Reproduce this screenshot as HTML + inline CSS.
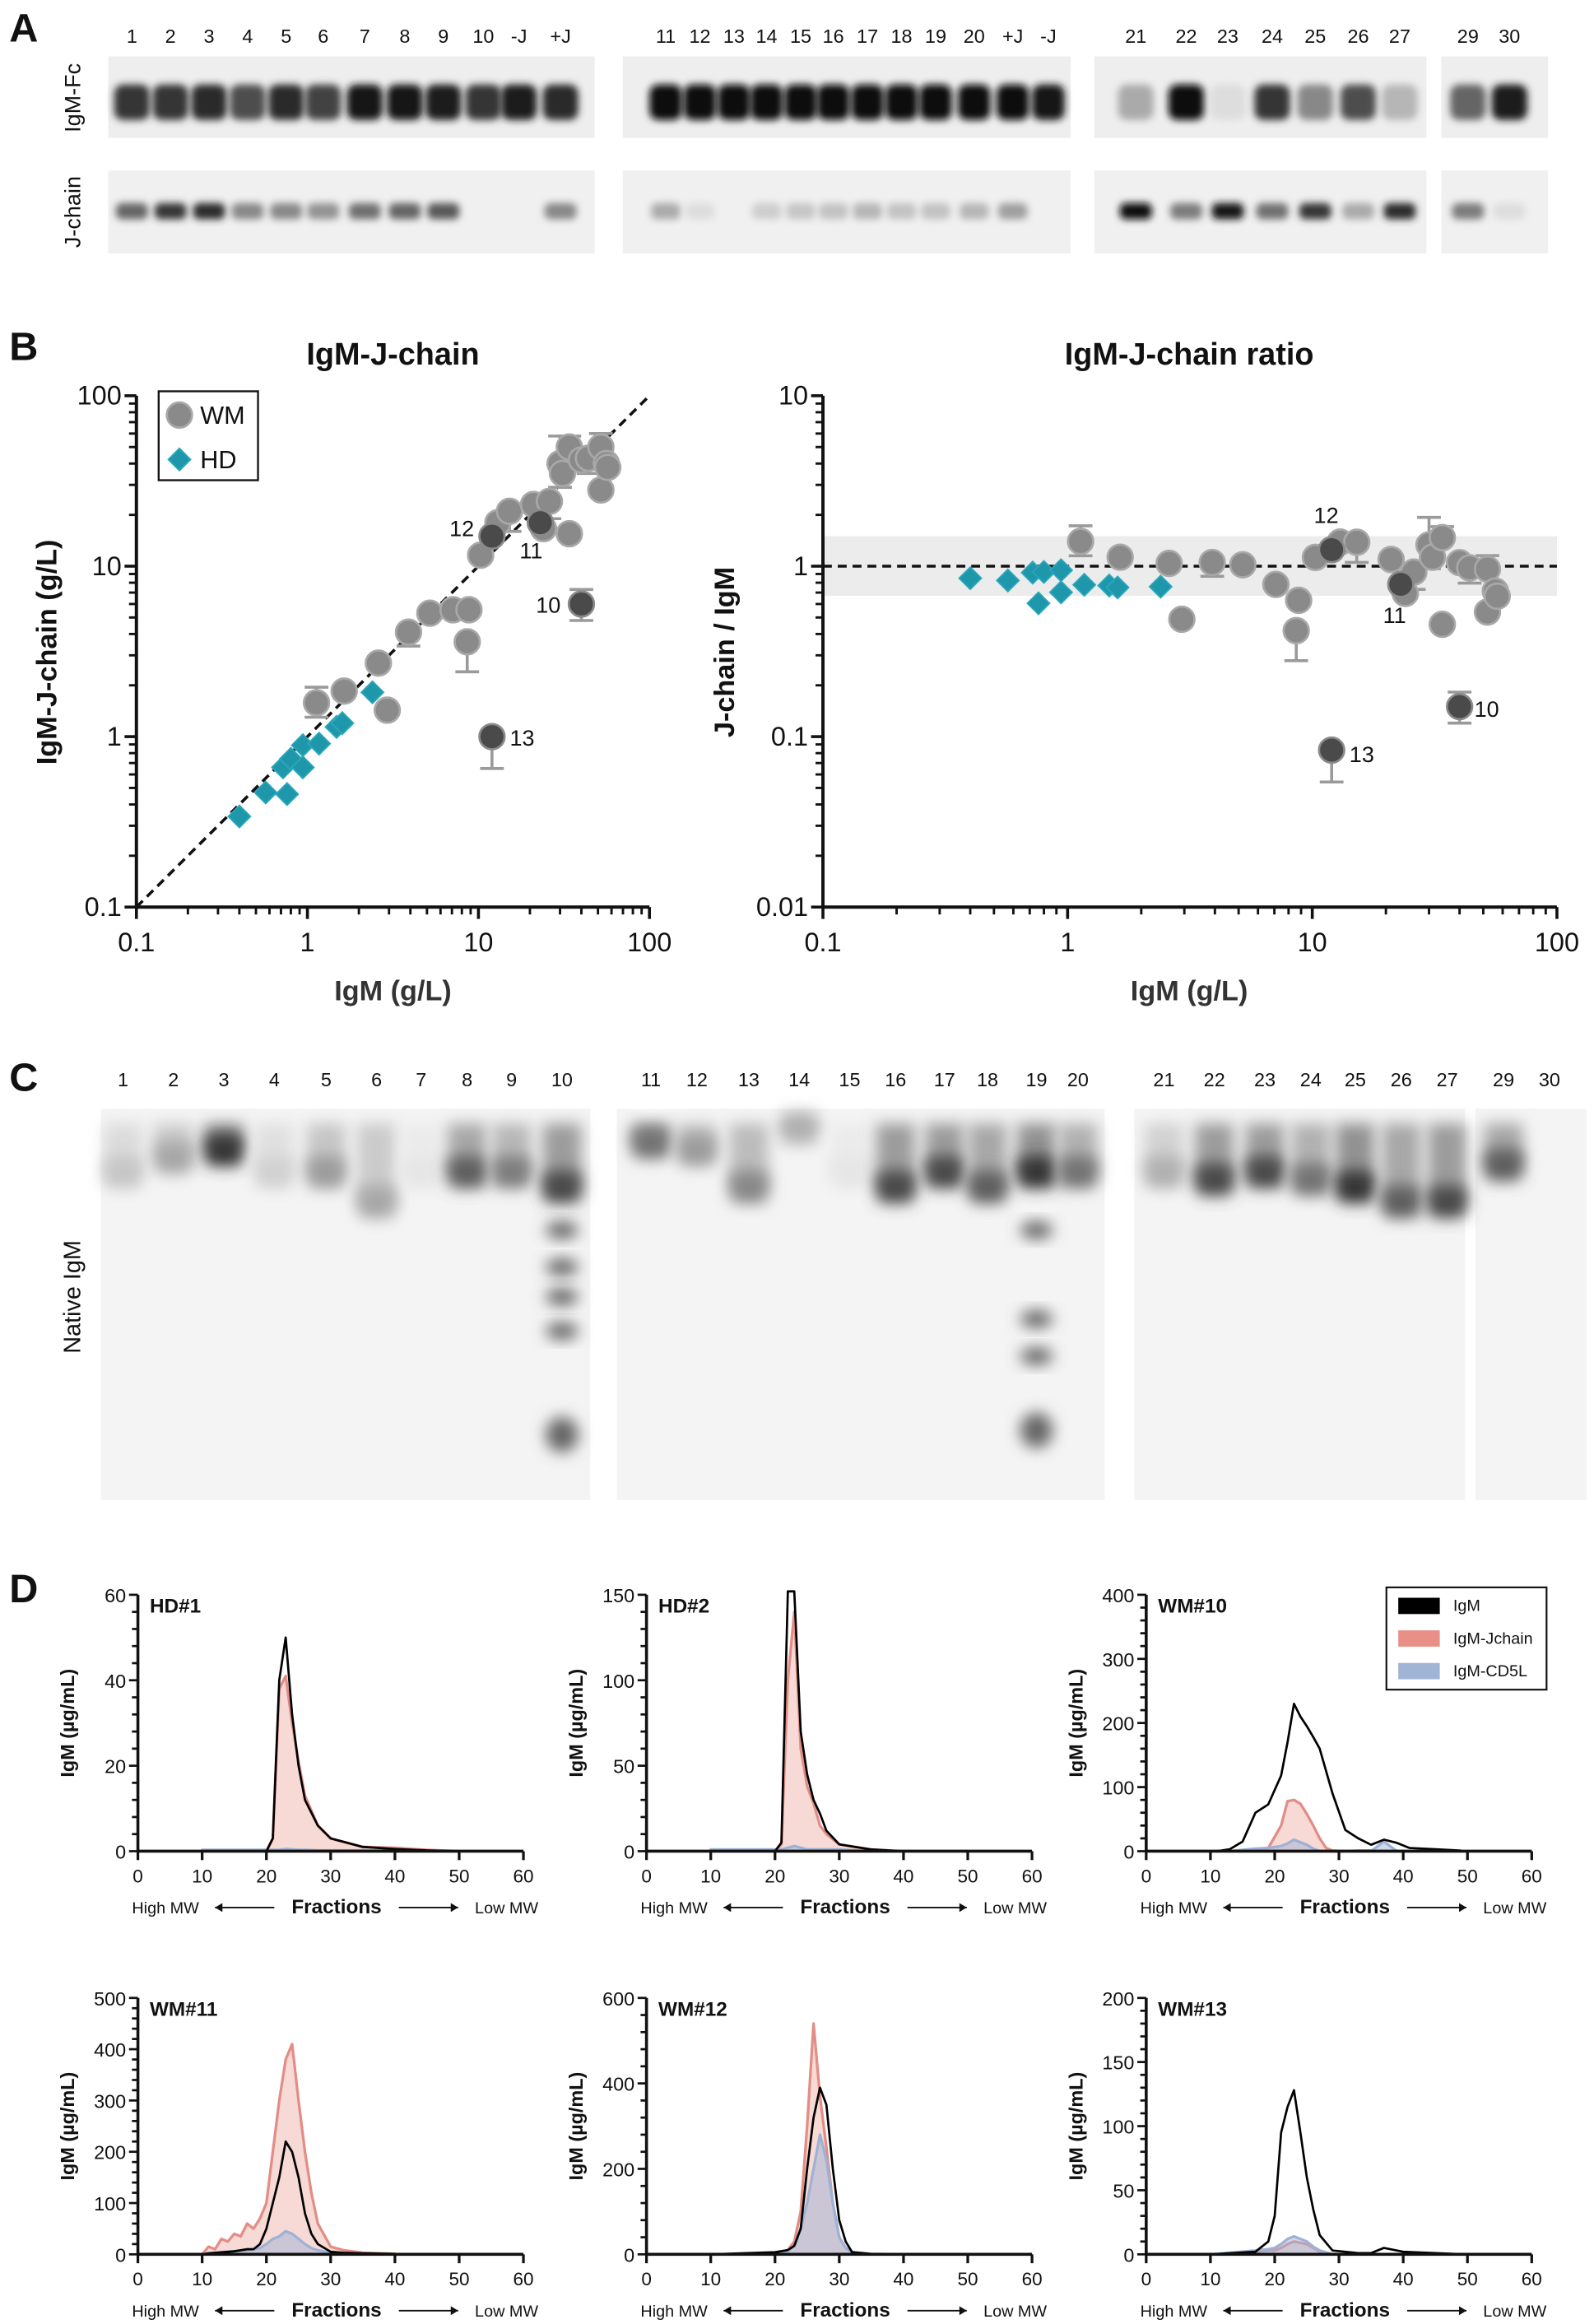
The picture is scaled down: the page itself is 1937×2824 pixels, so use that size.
<!DOCTYPE html>
<html><head><meta charset="utf-8">
<style>
html,body{margin:0;padding:0;background:#fff;}
svg{display:block;font-family:"Liberation Sans",Arial,sans-serif;}
</style></head>
<body>
<svg id="fig" xmlns="http://www.w3.org/2000/svg" width="1937" height="2824" viewBox="0 0 1075 1568" preserveAspectRatio="none">
<defs>
<filter id="blur2" x="-50%" y="-50%" width="200%" height="200%"><feGaussianBlur stdDeviation="2.5"/></filter>
<filter id="blur4" x="-50%" y="-50%" width="200%" height="200%"><feGaussianBlur stdDeviation="5"/></filter>
</defs>
</svg>
<script>
// ---------- Panel B data ----------
const WM_X = [1.13,1.64,2.6,2.93,3.9,5.2,7.1,8.8,8.6,10.3,13,15.2,21,26,24,34,30,31,34,40,44,52,52,56,57];
const WM_Y = [1.58,1.85,2.7,1.43,4.1,5.3,5.55,5.55,3.6,11.6,18,21,23,24,16.6,15.5,40,35,50,42,43,50,28,40,38];
const WM_LO = [1.3,null,null,null,3.4,null,null,null,2.4,null,null,16,null,19,null,null,29,null,null,null,35,null,null,null,null];
const WM_HI = [1.95,null,null,null,null,null,null,null,null,null,null,null,null,null,null,null,58,null,58,null,null,60,null,null,null];
const HD_X = [0.4,0.57,0.76,0.72,0.8,0.94,0.94,1.17,1.48,1.6,2.4];
const HD_Y = [0.34,0.47,0.46,0.66,0.74,0.66,0.89,0.91,1.14,1.2,1.82];
const DARK_ID = ['12','11','10','13'];
const DARK_X = [12,23,40,12];
const DARK_Y = [15,18,6,1.0];
const DARK_LO = [null,null,4.8,0.65];
const DARK_HI = [null,null,7.3,null];
const LOG_TICKS_L = ['0.1','1','10','100'];
const LOG_TICKS_R = ['0.01','0.1','1','10'];

// ---------- Panel D data ----------
const HD1_FRAC=[10,20,21,22,23,24,25,26,28,30,35,40,45,50];
const HD1_IGM=[0,0,3,40,50,32,20,12,6,3,1,0.5,0.2,0];
const HD1_J=[0,0,3,38,41,30,21,13,6,3,1,0.8,0.3,0];
const HD1_CD5=[0.3,0.3,0.3,0.3,0.5,0.4,0.3,0.3,0.2,0.2,0.2,0.2,0,0];
const HD2_FRAC=[10,20,21,22,23,24,25,26,27,28,30,35,40,50];
const HD2_IGM=[0,0,5,152,152,70,45,30,22,12,4,1,0,0];
const HD2_J=[0,0,4,100,140,60,38,28,15,10,4,1,0,0];
const HD2_CD5=[1,1,1,2,3,2,1,1,1,1,1,0,0,0];
const WM10_FRAC=[11,13,15,17,19,21,22,23,24,25,26,27,28,29,31,33,35,37,39,41,45,49];
const WM10_IGM=[0,3,15,60,73,118,170,230,210,195,178,160,125,90,33,20,10,18,13,5,3,1];
const WM10_J=[0,0,1,3,5,40,78,80,74,58,40,20,5,1,0,1,1,0,0,0,0,0];
const WM10_CD5=[0,0,2,4,5,8,12,18,14,10,4,0,0,0,0,0,0,15,0,0,0,0];
const WM11_FRAC=[10,11,12,13,14,15,16,17,18,19,20,21,22,23,24,25,26,27,28,30,32,35,40];
const WM11_IGM=[0,2,3,4,5,6,8,10,10,20,50,100,150,220,200,150,80,40,20,5,3,2,1];
const WM11_J=[0,15,10,30,25,40,35,60,50,70,100,200,300,380,410,300,200,120,60,15,8,3,1];
const WM11_CD5=[0,2,3,4,5,6,7,8,10,12,20,30,35,45,40,30,20,12,8,3,2,1,0];
const WM12_FRAC=[10,20,22,23,24,25,26,27,28,29,30,31,32,35,40];
const WM12_IGM=[0,5,10,20,60,200,320,390,350,200,80,30,5,1,0];
const WM12_J=[0,3,10,30,100,300,540,370,250,120,40,15,5,1,0];
const WM12_CD5=[0,2,8,20,60,120,200,280,220,120,40,15,5,1,0];
const WM13_FRAC=[10,17,19,20,21,22,23,24,25,26,27,29,33,35,37,40,45,50];
const WM13_IGM=[0,2,10,30,95,115,128,95,60,35,15,3,1,1,5,2,1,0];
const WM13_J=[0,2,3,3,5,8,10,9,8,5,2,0,0,0,0,0,0,0];
const WM13_CD5=[0,3,4,5,8,12,14,12,10,6,3,0,0,0,0,0,0,0];
const X_TICKS=[0,10,20,30,40,50,60];

// ---------- Blot data ----------
const A_LANES1=['1','2','3','4','5','6','7','8','9','10','-J','+J'];
const A_LX1=[89,115,141,167,193,218,246,273,299,326,350,378];
const A_FC1=[.8,.8,.85,.7,.85,.75,.95,.95,.9,.8,.9,.85];
const A_JC1=[.6,.8,.85,.45,.45,.4,.55,.6,.65,0,0,.45];
const A_LANES2=['11','12','13','14','15','16','17','18','19','20','+J','-J'];
const A_LX2=[449,472,495,517,540,562,585,608,631,657,683,707];
const A_FC2=[1,1,1,1,1,1,1,1,1,1,1,.95];
const A_JC2=[.3,.08,0,.15,.18,.2,.25,.2,.2,.25,.35,0];
const A_LANES3=['21','22','23','24','25','26','27','29','30'];
const A_LX3=[766,800,828,858,887,916,944,990,1018];
const A_FC3=[.3,1,.08,.8,.45,.7,.25,.6,.9];
const A_JC3=[1,.5,.95,.55,.8,.3,.85,.5,.08];
const C_LANES=['1','2','3','4','5','6','7','8','9','10','11','12','13','14','15','16','17','18','19','20','21','22','23','24','25','26','27','29','30'];
const C_LX=[83,117,151,185,220,254,284,315,345,379,439,470,505,539,573,604,637,666,699,727,785,819,853,884,914,945,976,1014,1045];
const C_INT=[.2,.35,.9,.15,.4,.35,.05,.7,.55,.8,.6,.4,.5,.3,.05,.8,.8,.7,.9,.6,.3,.8,.8,.6,.9,.7,.8,.7,0];
const C_Y=[790,780,775,790,790,810,790,790,790,800,770,775,800,760,790,800,790,800,790,790,790,795,790,795,800,810,810,785,790];

const svg=document.getElementById('fig');
const NS='http://www.w3.org/2000/svg';
function mk(tag,attrs,parent,txt){
  const e=document.createElementNS(NS,tag);
  for(const k in attrs)e.setAttribute(k,attrs[k]);
  if(txt!==undefined)e.textContent=txt;
  (parent||svg).appendChild(e);return e;
}
function grp(name){
  const g=mk('g',{});
  
  
  return g;
}
function label(g,x,y,t,size,anchor,weight,extra){
  const a=Object.assign({x:x,y:y,'font-size':size,'text-anchor':anchor||'middle','font-weight':weight||'normal',fill:'#111'},extra||{});
  const e=mk('text',a,g,t);
  
  
  return e;
}

// ---------- Panel letters ----------
const pl=grp('panel-letters');
label(pl,16,28,'A',27,'middle','bold');
label(pl,16,243,'B',27,'middle','bold');
label(pl,16,736,'C',27,'middle','bold');
label(pl,16,1081,'D',27,'middle','bold');

// ---------- Panel A blots ----------
function gray(v){const c=Math.round(240-v*232);return 'rgb('+c+','+c+','+c+')';}
const pa=grp('panel-a-western-blots');
[[73,401],[420,722],[738,962],[972,1044]].forEach(function(b,i){
  const r1=mk('rect',{x:b[0],y:38,width:b[1]-b[0],height:55,fill:'#eeeeee'},pa);
  
  
  const r2=mk('rect',{x:b[0],y:115,width:b[1]-b[0],height:56,fill:'#f0f0f0'},pa);
  
  
});
function blotLanes(names,xs,fc,jc,w){
  names.forEach(function(n,i){
    label(pa,xs[i],29,n,13,'middle');
    if(fc[i]>0){const e=mk('rect',{x:xs[i]-w,y:57,width:2*w,height:24,rx:6,fill:gray(fc[i]),filter:'url(#blur2)'},pa);
      
      }
    if(jc[i]>0){const e=mk('rect',{x:xs[i]-w*0.9,y:137,width:1.8*w,height:11,rx:4,fill:gray(jc[i]),filter:'url(#blur2)'},pa);
      
      }
  });
}
blotLanes(A_LANES1,A_LX1,A_FC1,A_JC1,12);
blotLanes(A_LANES2,A_LX2,A_FC2,A_JC2,11);
blotLanes(A_LANES3,A_LX3,A_FC3,A_JC3,12);
label(pa,54,66,'IgM-Fc',15,'middle','normal',{transform:'rotate(-90 54 66)'});
label(pa,54,143,'J-chain',15,'middle','normal',{transform:'rotate(-90 54 143)'});

// ---------- Panel B ----------
function lg(v){return Math.log10(v);}
const xL=v=>92+(lg(v)+1)*115.33, yL=v=>612-(lg(v)+1)*115;
const xR=v=>555+(lg(v)+1)*165, yR=v=>612-(lg(v)+2)*115;
function logAxes(g,xf,yf,xmin,ymin,xdec,ydec,xt,yt){
  const X0=xf(xmin),Y0=yf(ymin),X1=xf(xmin*Math.pow(10,xdec)),Y1=yf(ymin*Math.pow(10,ydec));
  mk('line',{x1:X0,y1:Y0,x2:X1,y2:Y0,stroke:'#111','stroke-width':2.2},g);
  mk('line',{x1:X0,y1:Y0,x2:X0,y2:Y1,stroke:'#111','stroke-width':2.2},g);
  for(let d=0;d<=xdec;d++){const base=xmin*Math.pow(10,d);
    mk('line',{x1:xf(base),y1:Y0,x2:xf(base),y2:Y0+8,stroke:'#111','stroke-width':2},g);
    label(g,xf(base),Y0+30,xt[d],18,'middle');
    if(d<xdec)for(let m=2;m<10;m++)mk('line',{x1:xf(base*m),y1:Y0,x2:xf(base*m),y2:Y0+5,stroke:'#111','stroke-width':1.6},g);}
  for(let d=0;d<=ydec;d++){const base=ymin*Math.pow(10,d);
    mk('line',{x1:X0-8,y1:yf(base),x2:X0,y2:yf(base),stroke:'#111','stroke-width':2},g);
    label(g,X0-10,yf(base)+6,yt[d],18,'end');
    if(d<ydec)for(let m=2;m<10;m++)mk('line',{x1:X0-5,y1:yf(base*m),x2:X0,y2:yf(base*m),stroke:'#111','stroke-width':1.6},g);}
}
function errbar(g,xf,yf,x,y,lo,hi){
  [lo,hi].forEach(function(v){if(v===null)return;
    mk('line',{x1:xf(x),y1:yf(y),x2:xf(x),y2:yf(v),stroke:'#9a9a9a','stroke-width':2},g);
    mk('line',{x1:xf(x)-8,y1:yf(v),x2:xf(x)+8,y2:yf(v),stroke:'#9a9a9a','stroke-width':2},g);});
}
function circ(g,cx,cy,fill,name){
  const c=mk('circle',{cx:cx,cy:cy,r:8.5,fill:fill,stroke:fill==='#8a8a8a'?'#a8a8a8':'#8a8a8a','stroke-width':1.5},g);
  
  
}
function diam(g,cx,cy){
  const s=7.5;
  const p=mk('polygon',{points:(cx)+','+(cy-s)+' '+(cx+s)+','+cy+' '+cx+','+(cy+s)+' '+(cx-s)+','+cy,fill:'#1f97ab',stroke:'#2aa7bb','stroke-width':1},g);
  
  
}
// Left scatter
const bl=grp('igm-jchain-scatter');
label(bl,265,246,'IgM-J-chain',21,'middle','bold');
logAxes(bl,xL,yL,0.1,0.1,3,3,LOG_TICKS_L,LOG_TICKS_L);
mk('line',{x1:xL(0.1),y1:yL(0.1),x2:xL(100),y2:yL(100),stroke:'#111','stroke-width':2,'stroke-dasharray':'6,4'},bl);
label(bl,265,675,'IgM (g/L)',19,'middle','bold',{fill:'#333'});
label(bl,38,440,'IgM-J-chain (g/L)',19,'middle','bold',{transform:'rotate(-90 38 440)'});
WM_X.forEach((x,i)=>errbar(bl,xL,yL,x,WM_Y[i],WM_LO[i],WM_HI[i]));
DARK_X.forEach((x,i)=>errbar(bl,xL,yL,x,DARK_Y[i],DARK_LO[i],DARK_HI[i]));
HD_X.forEach((x,i)=>diam(bl,xL(x),yL(HD_Y[i])));
WM_X.forEach((x,i)=>circ(bl,xL(x),yL(WM_Y[i]),'#8a8a8a','wm-point'));
DARK_X.forEach((x,i)=>circ(bl,xL(x),yL(DARK_Y[i]),'#4a4a4a','wm-highlight-point'));
const dlL=[[-12,0],[-14,24],[-14,6],[12,6]];
const dlA=['end','start','end','start'];
DARK_ID.forEach((t,i)=>label(bl,xL(DARK_X[i])+dlL[i][0],yL(DARK_Y[i])+dlL[i][1],t,15,dlA[i]));
// legend
const lgd=grp('scatter-legend');
mk('rect',{x:107,y:264,width:67,height:60,fill:'#fff',stroke:'#111','stroke-width':1.3},lgd);
circ(lgd,121,280,'#8a8a8a','legend-wm-marker');
label(lgd,135,286,'WM',17,'start');
diam(lgd,121,310);
label(lgd,135,316,'HD',17,'start');

// Right scatter
const br=grp('igm-jchain-ratio-scatter');
label(br,802,246,'IgM-J-chain ratio',21,'middle','bold');
const band=mk('rect',{x:xR(0.1),y:yR(1.5),width:xR(100)-xR(0.1),height:yR(0.67)-yR(1.5),fill:'#ececec'},br);


logAxes(br,xR,yR,0.1,0.01,3,3,LOG_TICKS_L,LOG_TICKS_R);
mk('line',{x1:xR(0.1),y1:yR(1),x2:xR(100),y2:yR(1),stroke:'#111','stroke-width':2,'stroke-dasharray':'6,4'},br);
label(br,802,675,'IgM (g/L)',19,'middle','bold',{fill:'#333'});
label(br,495,440,'J-chain / IgM',19,'middle','bold',{transform:'rotate(-90 495 440)'});
const rat=(y,x)=>y===null?null:y/x;
WM_X.forEach((x,i)=>errbar(br,xR,yR,x,WM_Y[i]/x,rat(WM_LO[i],x),rat(WM_HI[i],x)));
DARK_X.forEach((x,i)=>errbar(br,xR,yR,x,DARK_Y[i]/x,rat(DARK_LO[i],x),rat(DARK_HI[i],x)));
HD_X.forEach((x,i)=>diam(br,xR(x),yR(HD_Y[i]/x)));
WM_X.forEach((x,i)=>circ(br,xR(x),yR(WM_Y[i]/x),'#8a8a8a','wm-ratio-point'));
DARK_X.forEach((x,i)=>circ(br,xR(x),yR(DARK_Y[i]/x),'#4a4a4a','wm-highlight-ratio-point'));
const dlR=[[-12,-18],[-12,26],[10,7],[12,8]];
DARK_ID.forEach((t,i)=>label(br,xR(DARK_X[i])+dlR[i][0],yR(DARK_Y[i]/DARK_X[i])+dlR[i][1],t,15,'start'));

// ---------- Panel C native gel ----------
const pc=grp('panel-c-native-gel');
[[68,398],[416,745],[765,988],[995,1070]].forEach(function(b){
  const r=mk('rect',{x:b[0],y:748,width:b[1]-b[0],height:264,fill:'#f4f4f4'},pc);
  
  
});
C_LANES.forEach(function(n,i){
  label(pc,C_LX[i],733,n,13,'middle');
  const v=C_INT[i];if(v<=0)return;
  const s=mk('rect',{x:C_LX[i]-13,y:758,width:26,height:C_Y[i]-755,fill:gray(v*0.45),filter:'url(#blur4)'},pc);
  
  
  const b=mk('rect',{x:C_LX[i]-13,y:C_Y[i]-10,width:26,height:22,rx:6,fill:gray(v*0.9),filter:'url(#blur4)'},pc);
  
  
});
[[379,[830,855,875,898,968]],[699,[830,890,915,965]]].forEach(function(l){
  l[1].forEach(function(y,j){
    const e=mk('ellipse',{cx:l[0],cy:y,rx:11,ry:j===l[1].length-1?12:6,fill:gray(0.6),filter:'url(#blur4)'},pc);
    
    
  });
});
label(pc,54,875,'Native IgM',16,'middle','normal',{transform:'rotate(-90 54 875)'});

// ---------- Panel D ----------
function dchart(name,ox,oy,ymax,ymaj,title,frac,igm,jc,cd5){
  const g=grp(name);
  const W=260,H=173;
  const xf=v=>ox+v/60*W, yf=v=>oy-v/ymax*H;
  function area(vals,fill,stroke,nm){
    let d='M'+xf(frac[0])+','+yf(0);
    frac.forEach((f,i)=>d+=' L'+xf(f)+','+yf(vals[i]));
    d+=' L'+xf(frac[frac.length-1])+','+yf(0)+' Z';
    const p=mk('path',{d:d,fill:fill,stroke:stroke,'stroke-width':1.8,'stroke-linejoin':'round'},g);
    
    
  }
  area(jc,'rgba(240,185,178,0.55)','#e28d85','igm-jchain-area');
  area(cd5,'rgba(160,180,215,0.5)','#9db2d6','igm-cd5l-area');
  let d='';frac.forEach((f,i)=>d+=(i?' L':'M')+xf(f)+','+yf(igm[i]));
  const ln=mk('path',{d:d,fill:'none',stroke:'#000','stroke-width':1.5,'stroke-linejoin':'round'},g);
  
  
  mk('line',{x1:ox,y1:oy,x2:ox+W,y2:oy,stroke:'#111','stroke-width':2},g);
  mk('line',{x1:ox,y1:oy,x2:ox,y2:oy-H,stroke:'#111','stroke-width':2},g);
  X_TICKS.forEach(function(t){
    mk('line',{x1:xf(t),y1:oy,x2:xf(t),y2:oy+6,stroke:'#111','stroke-width':1.8},g);
    label(g,xf(t),oy+21,String(t),12.5,'middle');
  });
  for(let v=0;v<=ymax+1e-6;v+=ymaj/5){
    const maj=Math.abs(v/ymaj-Math.round(v/ymaj))<1e-6;
    mk('line',{x1:ox-(maj?6:4),y1:yf(v),x2:ox,y2:yf(v),stroke:'#111','stroke-width':1.5},g);
    if(maj)label(g,ox-8,yf(v)+5,String(Math.round(v)),13,'end');
  }
  label(g,ox+8,oy-H+12,title,13.5,'start','bold');
  label(g,ox-43,oy-H/2,'IgM (µg/mL)',13,'middle','bold',{transform:'rotate(-90 '+(ox-43)+' '+(oy-H/2)+')'});
  label(g,ox-4,oy+42,'High  MW',11,'start');
  label(g,ox+134,oy+42,'Fractions',13.5,'middle','bold');
  label(g,ox+W+10,oy+42,'Low MW',11,'end');
  mk('line',{x1:ox+52,y1:oy+38,x2:ox+92,y2:oy+38,stroke:'#111','stroke-width':1},g);
  mk('path',{d:'M'+(ox+52)+','+(oy+38)+' l5,-3 v6 z',fill:'#111'},g);
  mk('line',{x1:ox+176,y1:oy+38,x2:ox+216,y2:oy+38,stroke:'#111','stroke-width':1},g);
  mk('path',{d:'M'+(ox+216)+','+(oy+38)+' l-5,-3 v6 z',fill:'#111'},g);
}
dchart('chart-hd1',93,1249,60,20,'HD#1',HD1_FRAC,HD1_IGM,HD1_J,HD1_CD5);
dchart('chart-hd2',436,1249,150,50,'HD#2',HD2_FRAC,HD2_IGM,HD2_J,HD2_CD5);
dchart('chart-wm10',773,1249,400,100,'WM#10',WM10_FRAC,WM10_IGM,WM10_J,WM10_CD5);
dchart('chart-wm11',93,1521,500,100,'WM#11',WM11_FRAC,WM11_IGM,WM11_J,WM11_CD5);
dchart('chart-wm12',436,1521,600,200,'WM#12',WM12_FRAC,WM12_IGM,WM12_J,WM12_CD5);
dchart('chart-wm13',773,1521,200,50,'WM#13',WM13_FRAC,WM13_IGM,WM13_J,WM13_CD5);
// legend D
const ld=grp('fraction-legend');
mk('rect',{x:935,y:1071,width:108,height:69,fill:'#fff',stroke:'#111','stroke-width':1.2},ld);
[['IgM','#000'],['IgM-Jchain','#e89088'],['IgM-CD5L','#a0b4d6']].forEach(function(e,i){
  const y=1083+i*22;
  const r=mk('rect',{x:943,y:y-5,width:28,height:11,fill:e[1]},ld);
  
  
  label(ld,980,y+4,e[0],11,'start');
});
</script>
</body></html>
